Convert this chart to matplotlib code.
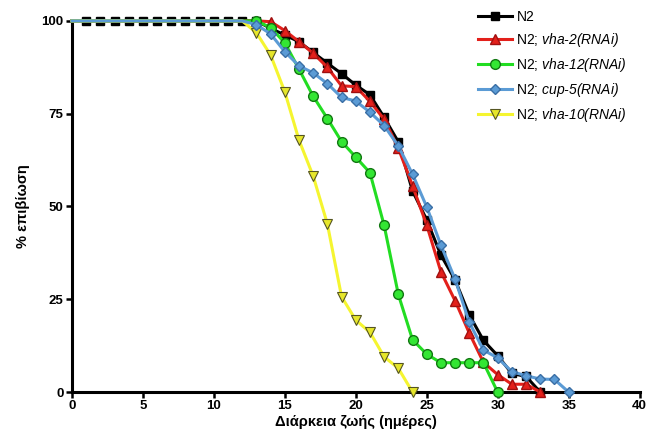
import matplotlib
matplotlib.use("Agg")
import matplotlib.pyplot as plt

plt.rcParams["font.family"] = ["Liberation Sans", "DejaVu Sans"]
plt.rcParams["mathtext.fontset"] = "custom"
plt.rcParams["mathtext.rm"] = "Liberation Sans"
plt.rcParams["mathtext.it"] = "Liberation Sans:italic"
plt.rcParams["mathtext.sf"] = "Liberation Sans:italic"

# survival (%) per day
days_n2 = list(range(0, 34))
n2 = [100, 100, 100, 100, 100, 100, 100, 100, 100, 100, 100, 100, 100,
      100, 98, 96.2, 94.4, 91.5, 88.6, 85.8, 82.7, 80.1, 74, 67.4, 54.2,
      46.4, 36.9, 30.2, 20.8, 13.9, 9.8, 5, 4.2, 0]

days_vha2 = list(range(0, 34))
vha2 = [100, 100, 100, 100, 100, 100, 100, 100, 100, 100, 100, 100, 100,
        100, 99.8, 97.4, 94.4, 91.3, 87.5, 82.5, 82.3, 78.3, 73.5, 65.7, 55.6,
        45, 32.4, 24.6, 15.9, 8, 4.7, 2.1, 2.1, 0]

days_vha12 = list(range(0, 31))
vha12 = [100, 100, 100, 100, 100, 100, 100, 100, 100, 100, 100, 100, 100,
         100, 98.2, 94.1, 87, 79.7, 73.7, 67.5, 63.3, 59.1, 44.9, 26.3, 14.1,
         10.2, 7.9, 7.9, 7.9, 7.9, 0]

days_cup5 = list(range(0, 36))
cup5 = [100, 100, 100, 100, 100, 100, 100, 100, 100, 100, 100, 100, 100,
        99, 96.5, 91.7, 87.9, 86, 83.1, 79.4, 78.4, 75.4, 71.8, 66.3, 58.7,
        49.9, 39.6, 30.4, 18.8, 11.3, 9.2, 5.5, 4.4, 3.5, 3.4, 0]

days_vha10 = list(range(0, 25))
vha10 = [100, 100, 100, 100, 100, 100, 100, 100, 100, 100, 100, 100, 100,
         96.8, 90.8, 80.9, 67.9, 58.2, 45.3, 25.7, 19.4, 16.1, 9.5, 6.4, 0]

x_ticks = [0, 5, 10, 15, 20, 25, 30, 35, 40]
y_ticks = [0, 25, 50, 75, 100]

fig = plt.figure(figsize=(6.48, 4.45), dpi=100)
ax = fig.add_axes([0.111, 0.119, 0.876, 0.834])

lw = 2.2
h_n2, = ax.plot(days_n2, n2, color="black", lw=lw, marker="s", ms=5.5,
                mfc="black", mec="black", markevery=slice(1, None),
                zorder=2, clip_on=False, label="N2")
h_vha2, = ax.plot(days_vha2, vha2, color="#e3201b", lw=lw, marker="^", ms=7,
                  mfc="#e3201b", mec="#a01010", markevery=slice(13, None),
                  zorder=3, clip_on=False, label="N2; $\\mathsf{vha‐2(RNAi)}$")
h_vha12, = ax.plot(days_vha12, vha12, color="#22dd22", lw=lw, marker="o", ms=7,
                   mfc="#33e633", mec="#117711", markevery=slice(13, None),
                   zorder=4, clip_on=False, label="N2; $\\mathsf{vha‐12(RNAi)}$")
h_vha10, = ax.plot(days_vha10, vha10, color="#f5f530", lw=lw, marker="v", ms=7,
                   mfc="#e6e62a", mec="#555522", mew=0.8,
                   markevery=slice(13, None),
                   zorder=5, clip_on=False, label="N2; $\\mathsf{vha‐10(RNAi)}$")
h_cup5, = ax.plot(days_cup5, cup5, color="#5b9bd5", lw=lw, marker="D", ms=5,
                  mfc="#5b9bd5", mec="#3a6ea5", markevery=slice(13, None),
                  zorder=6, clip_on=False, label="N2; $\\mathsf{cup‐5(RNAi)}$")

ax.set_xlim(0, 40)
ax.set_ylim(0, 100)
ax.set_xticks(x_ticks)
ax.set_yticks(y_ticks)
ax.set_xticklabels([str(t) for t in x_ticks], fontweight="bold", fontsize=9.5)
ax.set_yticklabels([str(t) for t in y_ticks], fontweight="bold", fontsize=9.5)
ax.tick_params(direction="out", length=4, width=1.8, pad=2)

for side in ["top", "right"]:
    ax.spines[side].set_visible(False)
for side in ["left", "bottom"]:
    ax.spines[side].set_linewidth(2.2)

ax.set_xlabel("Διάρκεια ζωής (ημέρες)", fontweight="bold", fontsize=10.5,
              labelpad=2)
ax.set_ylabel("% επιβίωση", fontweight="bold", fontsize=10.5, labelpad=8)

ax.legend(handles=[h_n2, h_vha2, h_vha12, h_cup5, h_vha10],
          loc="upper left", bbox_to_anchor=(0.737, 0.978),
          bbox_transform=fig.transFigure, frameon=False, fontsize=10,
          handlelength=2.5, handletextpad=0.3, labelspacing=0.5,
          borderpad=0, borderaxespad=0)

fig.savefig("out.png", dpi=100)
